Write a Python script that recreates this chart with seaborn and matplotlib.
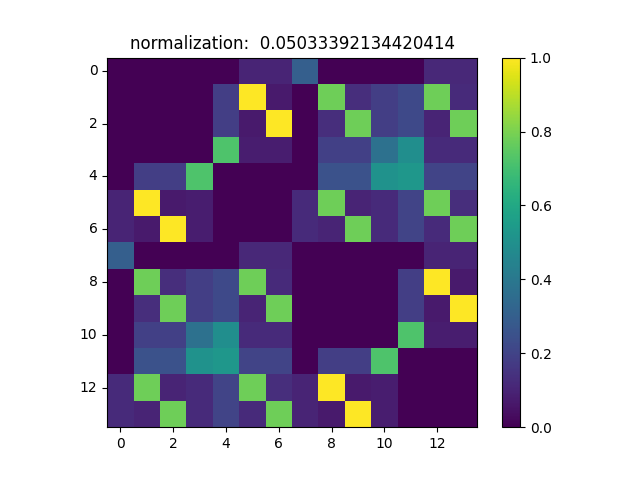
import numpy as np
import seaborn as sns
import matplotlib
matplotlib.use("Agg")
import matplotlib.pyplot as plt

# 14x14 matrix: two 7x7 blocks, [[A, B], [B, A]]
block_a = [
    [0.00, 0.00, 0.00, 0.00, 0.00, 0.10, 0.10],
    [0.00, 0.00, 0.00, 0.00, 0.18, 1.00, 0.07],
    [0.00, 0.00, 0.00, 0.00, 0.18, 0.07, 1.00],
    [0.00, 0.00, 0.00, 0.00, 0.72, 0.08, 0.08],
    [0.00, 0.18, 0.18, 0.72, 0.00, 0.00, 0.00],
    [0.10, 1.00, 0.07, 0.08, 0.00, 0.00, 0.00],
    [0.10, 0.07, 1.00, 0.08, 0.00, 0.00, 0.00],
]
block_b = [
    [0.30, 0.00, 0.00, 0.00, 0.00, 0.11, 0.11],
    [0.00, 0.78, 0.13, 0.18, 0.22, 0.78, 0.12],
    [0.00, 0.13, 0.78, 0.18, 0.22, 0.10, 0.78],
    [0.00, 0.19, 0.19, 0.37, 0.49, 0.12, 0.12],
    [0.00, 0.25, 0.25, 0.51, 0.53, 0.20, 0.20],
    [0.12, 0.78, 0.10, 0.12, 0.20, 0.78, 0.13],
    [0.12, 0.10, 0.78, 0.12, 0.20, 0.12, 0.78],
]
norm_value = "0.05033392134420414"
tick_labels = [0, 2, 4, 6, 8, 10, 12]

A = np.array(block_a)
B = np.array(block_b)
mat = np.block([[A, B], [B, A]])

fig, ax = plt.subplots(figsize=(6.4, 4.8), dpi=100)
sns.heatmap(mat, ax=ax, cmap="viridis", vmin=0, vmax=1, square=True,
            cbar_kws={"ticks": [0.0, 0.2, 0.4, 0.6, 0.8, 1.0]})

# make it look like plain imshow
pos = np.array(tick_labels) + 0.5
ax.set_xticks(pos)
ax.set_xticklabels(tick_labels, rotation=0)
ax.set_yticks(pos)
ax.set_yticklabels(tick_labels, rotation=0)
ax.tick_params(length=3.5, width=0.8)
for s in ax.spines.values():
    s.set_visible(True)
    s.set_linewidth(0.8)
    s.set_color("black")

cbar = ax.collections[0].colorbar
cbar.outline.set_linewidth(0.8)
cbar.outline.set_edgecolor("black")
cbar.ax.tick_params(length=3.5, width=0.8)
cbar.ax.set_yticklabels(["0.0", "0.2", "0.4", "0.6", "0.8", "1.0"])

ax.set_title("normalization:  " + norm_value)
fig.savefig("out.png")
